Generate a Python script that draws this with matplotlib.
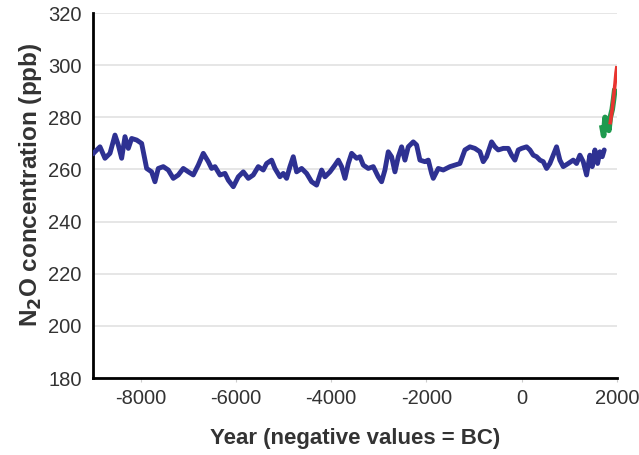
import matplotlib.pyplot as plt

# ice core N2O record (blue), firn/early (green), modern (red)
years_blue = [-9000, -8958, -8853, -8748, -8643, -8538, -8468, -8398, -8328, -8258,
              -8188, -8083, -7978, -7873, -7769, -7699, -7629, -7524, -7419, -7314,
              -7209, -7104, -6999, -6894, -6789, -6684, -6579, -6509, -6439, -6334,
              -6229, -6159, -6054, -5949, -5844, -5739, -5635, -5530, -5425, -5355,
              -5250, -5180, -5075, -5005, -4935, -4865, -4795, -4725, -4620, -4515,
              -4410, -4305, -4200, -4130, -4025, -3920, -3850, -3780, -3710, -3640,
              -3570, -3465, -3396, -3326, -3221, -3116, -3011, -2941, -2871, -2801,
              -2731, -2661, -2591, -2521, -2451, -2381, -2276, -2206, -2136, -2031,
              -1961, -1891, -1856, -1751, -1646, -1506, -1402, -1297, -1192, -1087,
              -982, -877, -807, -737, -632, -562, -492, -387, -282, -212,
              -142, -72, -2, 103, 173, 243, 313, 383, 453, 523,
              592, 662, 732, 802, 872, 977, 1082, 1152, 1222, 1292,
              1362, 1432, 1481, 1537, 1593, 1642, 1691, 1733]
n2o_blue = [266.0, 266.8, 268.7, 264.3, 266.2, 273.2, 269.4, 264.3, 272.6, 268.1,
            271.9, 271.3, 270.0, 260.4, 259.1, 255.3, 260.4, 261.1, 259.8, 256.6,
            257.9, 260.4, 259.1, 257.9, 261.7, 266.2, 263.0, 260.4, 261.1, 257.9,
            258.5, 255.9, 253.4, 257.2, 259.1, 256.6, 257.9, 261.1, 259.8, 262.3,
            263.6, 260.4, 257.2, 258.5, 256.6, 261.1, 264.9, 259.1, 260.4, 258.5,
            255.3, 254.0, 259.8, 257.2, 259.1, 261.7, 263.6, 261.1, 256.6, 262.3,
            266.2, 264.3, 264.9, 261.7, 260.4, 261.1, 257.2, 255.3, 259.8, 266.8,
            264.9, 259.1, 264.9, 268.7, 263.6, 268.7, 270.6, 269.4, 263.6, 263.0,
            263.6, 258.5, 256.6, 260.4, 259.8, 261.1, 261.7, 262.3, 267.5, 268.7,
            268.1, 266.8, 263.0, 264.9, 270.6, 268.7, 267.5, 268.1, 268.1, 265.5,
            263.6, 267.5, 268.1, 268.7, 267.5, 265.5, 264.9, 263.6, 263.0, 260.4,
            262.3, 265.5, 268.7, 263.6, 261.1, 262.3, 263.6, 262.3, 265.5, 263.0,
            257.9, 265.5, 261.1, 267.5, 262.3, 266.8, 264.9, 267.5]

years_green = [1690, 1720, 1750, 1780, 1800, 1830, 1860, 1900, 1930, 1950]
n2o_green = [276, 273, 280, 277, 278, 275, 280, 283, 287, 290]

years_red = [1860, 1900, 1930, 1960, 1980, 1995]
n2o_red = [278, 283, 288, 293, 297, 299]

xticks = [-8000, -6000, -4000, -2000, 0, 2000]
yticks = [180, 200, 220, 240, 260, 280, 300, 320]

plt.rcParams['font.family'] = ['Liberation Sans', 'DejaVu Sans']

fig = plt.figure(figsize=(6.39, 4.55), dpi=100)
ax = fig.add_axes([0.1455, 0.1692, 0.82, 0.802])

ax.plot(years_blue, n2o_blue, color='#2e3192', lw=3.5, solid_joinstyle='round',
        solid_capstyle='round', zorder=3)
ax.plot(years_green, n2o_green, color='#1f9a4e', lw=4.0, zorder=4)
ax.plot(years_red, n2o_red, color='#e8342f', lw=2.6, zorder=5)

ax.set_xlim(-9000, 2000)
ax.set_ylim(180, 320)
ax.set_xticks(xticks)
ax.set_yticks(yticks)
ax.set_xticklabels([str(t) for t in xticks])

ax.grid(axis='y', color='#e6e6e6', lw=1.4)
ax.set_axisbelow(True)
for s in ['top', 'right']:
    ax.spines[s].set_visible(False)
for s in ['left', 'bottom']:
    ax.spines[s].set_linewidth(2)
    ax.spines[s].set_color('black')

ax.tick_params(axis='x', length=3, color='#cccccc', pad=5, labelsize=14.5, labelcolor='#333333')
ax.tick_params(axis='y', length=0, pad=8, labelsize=14.5, labelcolor='#333333')

ax.set_xlabel('Year (negative values = BC)', fontsize=16, fontweight='bold', color='#333333', labelpad=14)
ax.set_ylabel('N$_\\mathbf{2}$O concentration (ppb)', fontsize=17.5, fontweight='bold', color='#333333',
              labelpad=3, y=0.53)

fig.savefig('out.png', dpi=100)
